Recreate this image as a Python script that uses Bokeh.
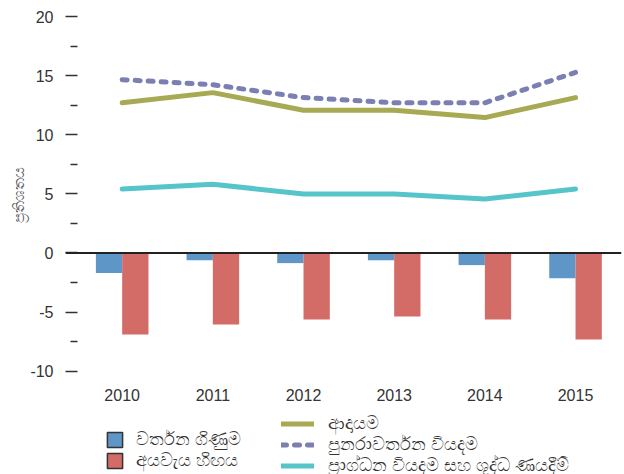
from bokeh.plotting import figure
from bokeh.models import (ColumnDataSource, Range1d, FixedTicker, Span, Legend,
                          LegendItem, Title)
from bokeh.transform import dodge
from bokeh.embed import file_html
from bokeh.resources import INLINE

# ---- data ----
years = [2010, 2011, 2012, 2013, 2014, 2015]
current_account = [-1.7, -0.62, -0.86, -0.62, -1.03, -2.13]
budget_deficit = [-6.9, -6.05, -5.62, -5.37, -5.62, -7.32]
revenue = [12.7, 13.56, 12.07, 12.07, 11.45, 13.14]
recurrent_exp = [14.66, 14.23, 13.14, 12.7, 12.7, 15.27]
capital_exp = [5.4, 5.82, 4.98, 4.98, 4.56, 5.4]

y_ticks = [-10, -5, 0, 5, 10, 15, 20]
y_minor = [-7.5, -2.5, 2.5, 7.5, 12.5, 17.5]
y_tick_labels = {-10: "-10", -5: "-5"}

lbl_ca = "වර්තන ගිණුම"
lbl_bd = "අයවැය හිඟය"
lbl_rev = "ආදායම"
lbl_rec = "පුනරාවර්තන වියදම"
lbl_cap = "ප්\u200dරාග්ධන වියදම සහ ශුද්ධ ණයදීම්"
y_title = "ප්\u200dරතිශතය"

BLUE = "#5E96C8"
RED = "#D36B66"
OLIVE = "#A7AA52"
PURPLE = "#7B7FB2"
CYAN = "#56C5CA"
FONT = "Liberation Sans"

src = ColumnDataSource(dict(year=years, ca=current_account, bd=budget_deficit,
                            rev=revenue, rec=recurrent_exp, cap=capital_exp))

p = figure(width=624, height=474, output_backend="svg", toolbar_location=None,
           x_range=Range1d(2009.375, 2015.507), y_range=Range1d(-18.74, 20),
           min_border_left=65, min_border_right=3, min_border_top=16, min_border_bottom=0)
p.outline_line_color = None
p.grid.visible = False
p.background_fill_color = "white"

bar_ca = p.vbar(x=dodge("year", -0.145, range=p.x_range), top="ca", bottom=0, width=0.29,
                source=src, fill_color=BLUE, line_color=None)
bar_bd = p.vbar(x=dodge("year", 0.145, range=p.x_range), top="bd", bottom=0, width=0.29,
                source=src, fill_color=RED, line_color=None)

l_rev = p.line("year", "rev", source=src, line_color=OLIVE, line_width=5, line_cap="round",
               line_join="round")
l_rec = p.line("year", "rec", source=src, line_color=PURPLE, line_width=5, line_cap="round",
               line_join="round", line_dash="5 8")
l_cap = p.line("year", "cap", source=src, line_color=CYAN, line_width=5, line_cap="round",
               line_join="round")

p.add_layout(Span(location=0, dimension="width", line_color="#222222", line_width=2))

# legend-only swatches (outlined squares); hidden in the plot area
sw_ca = p.vbar(x=dodge("year", -0.145, range=p.x_range), top="ca", width=0.29, source=src,
               fill_color=BLUE, line_color="#333333", line_width=1.5, visible=False)
sw_bd = p.vbar(x=dodge("year", 0.145, range=p.x_range), top="bd", width=0.29, source=src,
               fill_color=RED, line_color="#333333", line_width=1.5, visible=False)

# axes
xa = p.xaxis[0]
xa.fixed_location = -10
xa.ticker = FixedTicker(ticks=years)
xa.axis_line_color = None
xa.major_tick_line_color = None
xa.minor_tick_line_color = None
xa.major_tick_out = 0
xa.major_tick_in = 0
xa.major_label_standoff = 18
xa.major_label_text_font = FONT
xa.major_label_text_font_size = "16px"
xa.major_label_text_color = "#333333"

ya = p.yaxis[0]
ya.ticker = FixedTicker(ticks=y_ticks, minor_ticks=y_minor)
ya.major_label_overrides = y_tick_labels
ya.axis_line_color = None
ya.major_tick_in = 12
ya.major_tick_out = 0
ya.minor_tick_in = 12
ya.minor_tick_out = -5
ya.major_tick_line_color = "#333333"
ya.minor_tick_line_color = "#333333"
ya.major_tick_line_width = 1.3
ya.minor_tick_line_width = 1.3
ya.major_label_standoff = 12
ya.major_label_text_font = FONT
ya.major_label_text_font_size = "16px"
ya.major_label_text_color = "#333333"

# vertical axis title, positioned along the upper part of the frame
p.add_layout(Title(text=y_title, align="right", offset=150, vertical_align="middle",
                   text_font=FONT, text_font_size="15px", text_font_style="normal",
                   text_color="#555555", standoff=0), "left")

def style_legend(lg):
    lg.border_line_color = None
    lg.background_fill_alpha = 0
    lg.inactive_fill_alpha = 0
    lg.padding = 0
    lg.margin = 0
    lg.label_text_font = FONT
    lg.label_text_font_size = "18px"
    lg.label_text_color = "#333333"

leg1 = Legend(items=[LegendItem(label=lbl_ca, renderers=[sw_ca]),
                     LegendItem(label=lbl_bd, renderers=[sw_bd])],
              location=(40.4, 3.5))
style_legend(leg1)
leg1.glyph_width = 19
leg1.glyph_height = 19
leg1.label_height = 19
leg1.spacing = 0
leg1.label_standoff = 12

leg2 = Legend(items=[LegendItem(label=lbl_rev, renderers=[l_rev]),
                     LegendItem(label=lbl_rec, renderers=[l_rec]),
                     LegendItem(label=lbl_cap, renderers=[l_cap])],
              location=(215.5, -2))
style_legend(leg2)
leg2.glyph_width = 33
leg2.glyph_height = 19
leg2.label_height = 19
leg2.spacing = -2
leg2.label_standoff = 14

p.add_layout(leg1, "center")
p.add_layout(leg2, "center")

open("out.html", "w").write(file_html(p, INLINE))
